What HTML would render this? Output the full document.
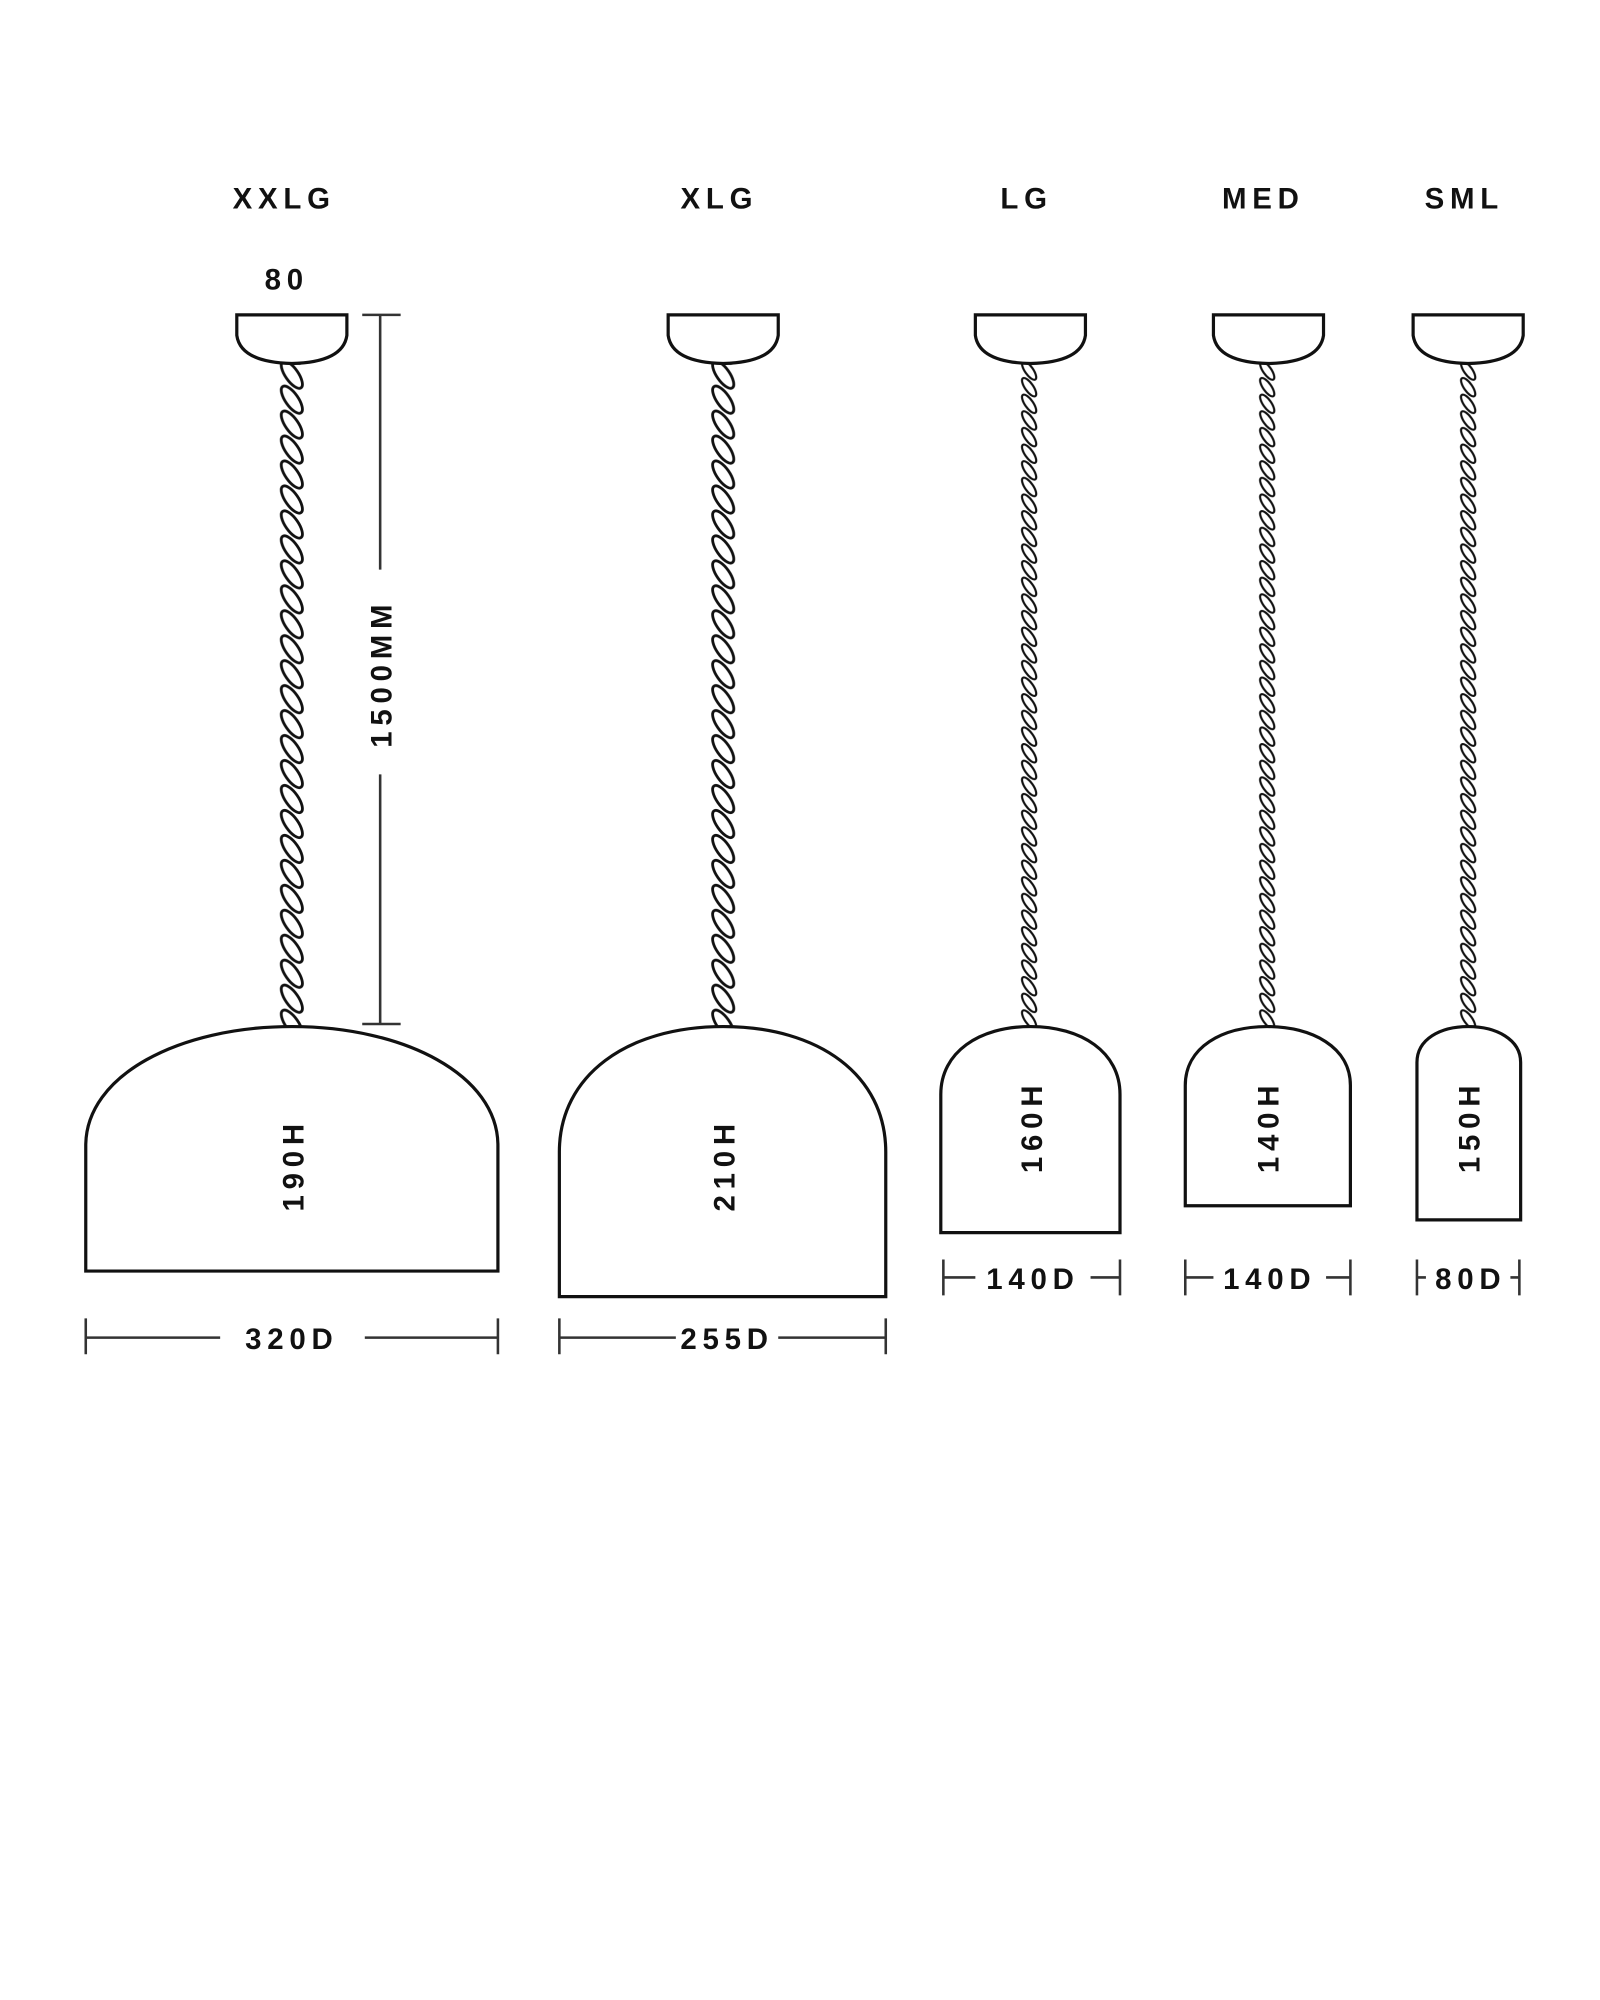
<!DOCTYPE html>
<html><head><meta charset="utf-8"><style>
html,body{margin:0;padding:0;background:#fff;}
svg{display:block}
text{font-family:"Liberation Sans",sans-serif;font-weight:bold;fill:#111;letter-spacing:4.5px}
</style></head><body>
<svg width="1600" height="2000" viewBox="0 0 1250 1562.5" xmlns="http://www.w3.org/2000/svg">
<defs>
<pattern id="r22" patternUnits="userSpaceOnUse" x="217" y="283" width="22" height="19.5">
<ellipse cx="11" cy="9.75" rx="12.5" ry="5" transform="rotate(55 11 9.75)" fill="none" stroke="#111" stroke-width="2.2"/>
<ellipse cx="11" cy="-9.75" rx="12.5" ry="5" transform="rotate(55 11 -9.75)" fill="none" stroke="#111" stroke-width="2.2"/>
<ellipse cx="11" cy="29.25" rx="12.5" ry="5" transform="rotate(55 11 29.25)" fill="none" stroke="#111" stroke-width="2.2"/>
</pattern>
<pattern id="r22b" patternUnits="userSpaceOnUse" x="554" y="283" width="22" height="19.5">
<ellipse cx="11" cy="9.75" rx="12.5" ry="5" transform="rotate(55 11 9.75)" fill="none" stroke="#111" stroke-width="2.2"/>
<ellipse cx="11" cy="-9.75" rx="12.5" ry="5" transform="rotate(55 11 -9.75)" fill="none" stroke="#111" stroke-width="2.2"/>
<ellipse cx="11" cy="29.25" rx="12.5" ry="5" transform="rotate(55 11 29.25)" fill="none" stroke="#111" stroke-width="2.2"/>
</pattern>
<pattern id="r14a" patternUnits="userSpaceOnUse" x="797" y="283" width="14" height="13">
<ellipse cx="7" cy="6.5" rx="8.5" ry="3.2" transform="rotate(55 7 6.5)" fill="none" stroke="#111" stroke-width="1.7"/>
<ellipse cx="7" cy="-6.5" rx="8.5" ry="3.2" transform="rotate(55 7 -6.5)" fill="none" stroke="#111" stroke-width="1.7"/>
<ellipse cx="7" cy="19.5" rx="8.5" ry="3.2" transform="rotate(55 7 19.5)" fill="none" stroke="#111" stroke-width="1.7"/>
</pattern>
<pattern id="r14b" patternUnits="userSpaceOnUse" x="983" y="283" width="14" height="13">
<ellipse cx="7" cy="6.5" rx="8.5" ry="3.2" transform="rotate(55 7 6.5)" fill="none" stroke="#111" stroke-width="1.7"/>
<ellipse cx="7" cy="-6.5" rx="8.5" ry="3.2" transform="rotate(55 7 -6.5)" fill="none" stroke="#111" stroke-width="1.7"/>
<ellipse cx="7" cy="19.5" rx="8.5" ry="3.2" transform="rotate(55 7 19.5)" fill="none" stroke="#111" stroke-width="1.7"/>
</pattern>
<pattern id="r14c" patternUnits="userSpaceOnUse" x="1140" y="283" width="14" height="13">
<ellipse cx="7" cy="6.5" rx="8.5" ry="3.2" transform="rotate(55 7 6.5)" fill="none" stroke="#111" stroke-width="1.7"/>
<ellipse cx="7" cy="-6.5" rx="8.5" ry="3.2" transform="rotate(55 7 -6.5)" fill="none" stroke="#111" stroke-width="1.7"/>
<ellipse cx="7" cy="19.5" rx="8.5" ry="3.2" transform="rotate(55 7 19.5)" fill="none" stroke="#111" stroke-width="1.7"/>
</pattern>
</defs>

<g font-size="23" text-anchor="middle">
<text x="222" y="163">XXLG</text>
<text x="562" y="163">XLG</text>
<text x="802" y="163">LG</text>
<text x="987" y="163">MED</text>
<text x="1144" y="163">SML</text>
<text x="224" y="226">80</text>
</g>

<rect x="217" y="283" width="22" height="519" fill="url(#r22)"/>
<rect x="554" y="283" width="22" height="519" fill="url(#r22b)"/>
<rect x="797" y="283" width="14" height="519" fill="url(#r14a)"/>
<rect x="983" y="283" width="14" height="519" fill="url(#r14b)"/>
<rect x="1140" y="283" width="14" height="519" fill="url(#r14c)"/>

<g fill="#fff" stroke="#111" stroke-width="2.5">
<path d="M185,246 H271 V262 Q268,283 228,284 Q188,283 185,262 Z"/>
<path d="M522,246 H608 V262 Q605,283 565,284 Q525,283 522,262 Z"/>
<path d="M762,246 H848 V262 Q845,283 805,284 Q765,283 762,262 Z"/>
<path d="M948,246 H1034 V262 Q1031,283 991,284 Q951,283 948,262 Z"/>
<path d="M1104,246 H1190 V262 Q1187,283 1147,284 Q1107,283 1104,262 Z"/>
<path d="M67,993 V895 C67,840 140,802 228,802 C316,802 389,840 389,895 V993 Z"/>
<path d="M437,1013 V900 C437,840 490,802 565,802 C640,802 692,840 692,900 V1013 Z"/>
<path d="M735,963 V855 C735,822 765,802 805,802 C845,802 875,822 875,855 V963 Z"/>
<path d="M926,942 V848 C926,818 955,802 990,802 C1025,802 1055,818 1055,848 V942 Z"/>
<path d="M1107,953 V830 C1107,812 1125,802 1147,802 C1169,802 1188,812 1188,830 V953 Z"/>
</g>

<g stroke="#333" stroke-width="2" fill="none">
<path d="M283,246 H313 M297,246 V445 M297,605 V800 M283,800 H313"/>
<path d="M67,1030 V1058 M67,1045 H172 M285,1045 H389 M389,1030 V1058"/>
<path d="M437,1030 V1058 M437,1045 H528 M608,1045 H692 M692,1030 V1058"/>
<path d="M737,984 V1012 M737,998 H762 M852,998 H875 M875,984 V1012"/>
<path d="M926,984 V1012 M926,998 H948 M1036,998 H1055 M1055,984 V1012"/>
<path d="M1107,984 V1012 M1107,998 H1114 M1180,998 H1187 M1187,984 V1012"/>
</g>

<g font-size="23" text-anchor="middle">
<text x="228" y="1054">320D</text>
<text x="568" y="1054">255D</text>
<text x="807" y="1007">140D</text>
<text x="992" y="1007">140D</text>
<text x="1149" y="1007" letter-spacing="1.5">80D</text>
<text transform="translate(306,526) rotate(-90)">1500MM</text>
<text transform="translate(237,910) rotate(-90)">190H</text>
<text transform="translate(574,910) rotate(-90)">210H</text>
<text transform="translate(814,880) rotate(-90)">160H</text>
<text transform="translate(999,880) rotate(-90)">140H</text>
<text transform="translate(1156,880) rotate(-90)">150H</text>
</g>
</svg>
</body></html>
